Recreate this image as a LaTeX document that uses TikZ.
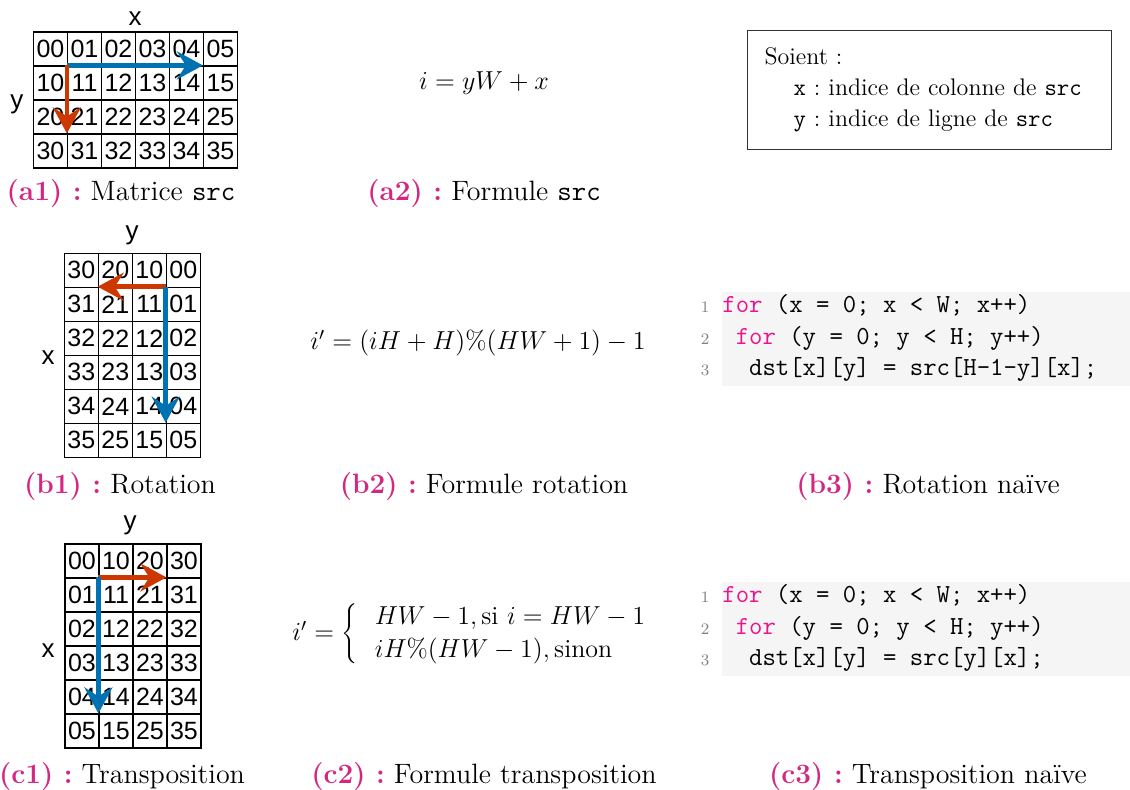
\RequirePackage{fix-cm}
\documentclass[tikz,border=0pt]{standalone}
\usepackage{fontspec}
\newfontfamily\cellfont{Liberation Sans}
\usepackage{xcolor}
\usepackage{tikz}
\usetikzlibrary{positioning,arrows.meta}
\definecolor{arrblue}{RGB}{0,114,178}
\definecolor{arrred}{RGB}{205,55,0}
\definecolor{capmag}{RGB}{210,40,130}
\definecolor{kwpink}{RGB}{235,20,140}
\definecolor{codebg}{RGB}{245,245,245}
\newcommand{\subcap}[2]{{\color{capmag}\bfseries(#1) :} #2}
\newcommand{\kw}[1]{\textcolor{kwpink}{#1}}
\frenchspacing

\begin{document}
\begin{tikzpicture}[
    x=0.5pt, y=-0.5pt,
    cell/.style={draw, line width=0.6pt, minimum width=17pt, minimum height=17pt,
                 inner sep=0pt, font=\cellfont\fontsize{12.5}{13}\selectfont},
    axis/.style={inner sep=0pt, font=\cellfont\fontsize{13}{14}\selectfont},
    caption/.style={anchor=base, inner sep=0pt, font=\fontsize{14}{16}\selectfont},
    formula/.style={inner sep=0pt, font=\fontsize{13}{16.5}\selectfont},
    defbox/.style={draw=black!80, line width=0.6pt, anchor=north west, minimum width=182pt,
                   minimum height=59.5pt, text width=165pt, inner xsep=8.5pt, align=left,
                   font=\fontsize{12}{15.5}\selectfont},
    codeline/.style={anchor=base west, inner sep=0pt, font=\ttfamily\fontsize{13}{15}\selectfont},
    lineno/.style={anchor=base, inner sep=0pt, text=gray, font=\fontsize{8}{9}\selectfont},
    movearrow/.style={-{Stealth[length=13pt, width=14pt, inset=4.5pt]}, line width=2.3pt}
]
\useasboundingbox (0,0) rectangle (1130,790);

% (a1) matrice src
\foreach \r in {0,...,3}
  \foreach \c in {0,...,5}
    \node[cell] (a-\r-\c) at ({50.5+34*\c},{49+34*\r}) {\r\c};
\node[axis] (ax) at (135,19) {x};
\node[axis] (ay) at (17,104) {y};
\draw[movearrow, arrblue] (a-1-1.north west) -- (a-1-5.north west);
\draw[movearrow, arrred] (a-1-1.north west) -- (a-3-1.north west);
\node[caption] (capa1) at (121,201) {\subcap{a1}{Matrice \texttt{src}}};

% (a2) formule
\node[formula] (fsrc) at (484,83) {$i = yW + x$};
\node[caption] (capa2) at (484,201) {\subcap{a2}{Formule \texttt{src}}};

% definitions
\node[defbox] (defs) at (747,30) {Soient :\\
  \hspace*{14.5pt}\texttt{x} : indice de colonne de \texttt{src}\\
  \hspace*{14.5pt}\texttt{y} : indice de ligne de \texttt{src}};

% (b1) rotation
\foreach \r in {0,...,5}
  \foreach \c in {0,...,3}
    \node[cell] (b-\r-\c) at ({81.3+34*\c},{270.3+34*\r})
      {\pgfmathtruncatemacro\colk{3-\c}\colk\r};
\node[axis] (by) at (132,235) {y};
\node[axis] (bx) at (48,358) {x};
\draw[movearrow, arrred] (b-1-3.north west) -- (b-1-1.north west);
\draw[movearrow, arrblue] (b-1-3.north west) -- (b-5-3.north west);
\node[caption] (capb1) at (120,494) {\subcap{b1}{Rotation}};

% (b2) formule rotation
\node[formula] (frot) at (478,343) {$i' = (iH + H)\%(HW + 1) - 1$};
\node[caption] (capb2) at (484,494) {\subcap{b2}{Formule rotation}};

% (b3) code rotation
\fill[codebg] (722,292) rectangle (1130,386);
\node[lineno] (rn1) at (705,313) {1};
\node[lineno] (rn2) at (705,345) {2};
\node[lineno] (rn3) at (705,376) {3};
\node[codeline] (rot1) at (722,313) {\kw{for} (x = 0; x < W; x++)};
\node[codeline] (rot2) at (722,345) {\ \kw{for} (y = 0; y < H; y++)};
\node[codeline] (rot3) at (722,376) {\ \ dst[x][y] = src[H-1-y][x];};
\node[caption] (capb3) at (928,494) {\subcap{b3}{Rotation naïve}};

% (c1) transposition
\foreach \r in {0,...,5}
  \foreach \c in {0,...,3}
    \node[cell] (c-\r-\c) at ({82+34*\c},{561+34*\r}) {\c\r};
\node[axis] (cy) at (130,525) {y};
\node[axis] (cx) at (48,651) {x};
\draw[movearrow, arrred] (c-1-1.north west) -- (c-1-3.north west);
\draw[movearrow, arrblue] (c-1-1.north west) -- (c-5-1.north west);
\node[caption] (capc1) at (122,783) {\subcap{c1}{Transposition}};

% (c2) formule transposition
\node[formula] (ftra) at (475,634) {$i' = \left\{\;\begin{array}{l}
    HW - 1, \mathrm{si}\ i = HW - 1\\
    iH\%(HW - 1), \mathrm{sinon}
  \end{array}\right.$};
\node[caption] (capc2) at (484,783) {\subcap{c2}{Formule transposition}};

% (c3) code transposition
\fill[codebg] (722,582) rectangle (1130,676);
\node[lineno] (tn1) at (705,603) {1};
\node[lineno] (tn2) at (705,635) {2};
\node[lineno] (tn3) at (705,666) {3};
\node[codeline] (tra1) at (722,603) {\kw{for} (x = 0; x < W; x++)};
\node[codeline] (tra2) at (722,635) {\ \kw{for} (y = 0; y < H; y++)};
\node[codeline] (tra3) at (722,666) {\ \ dst[x][y] = src[y][x];};
\node[caption] (capc3) at (928,783) {\subcap{c3}{Transposition naïve}};
\end{tikzpicture}
\end{document}
